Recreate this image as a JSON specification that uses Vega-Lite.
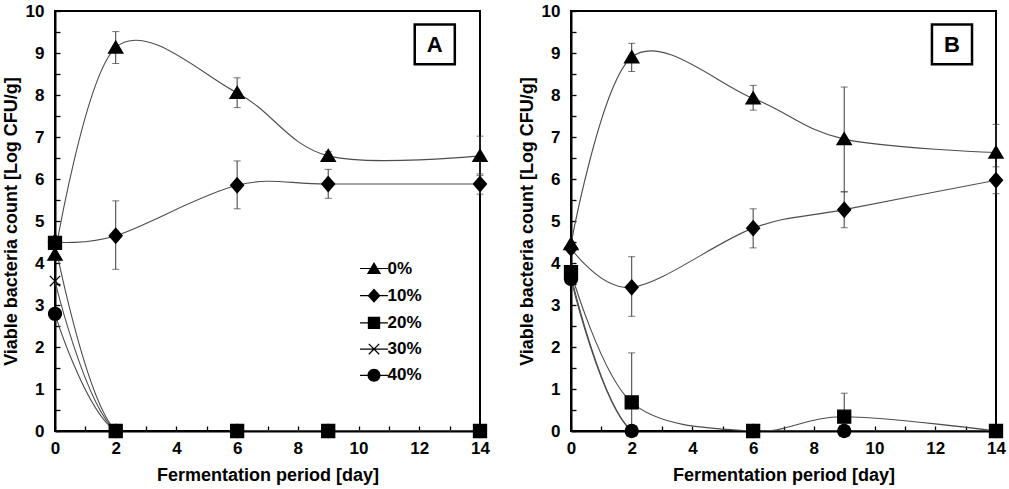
{
  "$schema": "https://vega.github.io/schema/vega-lite/v6.json",
  "background": "white",
  "padding": {"left": 1, "top": 1, "right": 5, "bottom": 3},
  "config": {
    "font": "Liberation Sans",
    "view": {"stroke": "black", "strokeWidth": 2},
    "concat": {"spacing": 26},
    "axis": {
      "grid": false,
      "labelFont": "Liberation Sans",
      "labelFontSize": 17,
      "labelFontWeight": "bold",
      "labelColor": "black",
      "titleFont": "Liberation Sans",
      "titleFontSize": 18,
      "titleFontWeight": "bold",
      "titleColor": "black",
      "domainColor": "black",
      "domainWidth": 2,
      "tickColor": "black",
      "tickWidth": 1.3,
      "tickSize": -5
    }
  },
  "datasets": {
    "counts": [
      {"panel": "A", "conc": "0%", "day": 0, "value": 4.2},
      {"panel": "A", "conc": "0%", "day": 2, "value": 9.13, "lo": 8.75, "hi": 9.51},
      {"panel": "A", "conc": "0%", "day": 6, "value": 8.05, "lo": 7.7, "hi": 8.41},
      {"panel": "A", "conc": "0%", "day": 9, "value": 6.55, "lo": 6.45, "hi": 6.65},
      {"panel": "A", "conc": "0%", "day": 14, "value": 6.55, "lo": 6.08, "hi": 7.02},
      {"panel": "A", "conc": "10%", "day": 0, "value": 4.5},
      {"panel": "A", "conc": "10%", "day": 2, "value": 4.65, "lo": 3.85, "hi": 5.48},
      {"panel": "A", "conc": "10%", "day": 6, "value": 5.85, "lo": 5.29, "hi": 6.43},
      {"panel": "A", "conc": "10%", "day": 9, "value": 5.88, "lo": 5.54, "hi": 6.23},
      {"panel": "A", "conc": "10%", "day": 14, "value": 5.88, "lo": 5.64, "hi": 6.12},
      {"panel": "A", "conc": "20%", "day": 0, "value": 4.48},
      {"panel": "A", "conc": "20%", "day": 2, "value": 0},
      {"panel": "A", "conc": "20%", "day": 6, "value": 0},
      {"panel": "A", "conc": "20%", "day": 9, "value": 0},
      {"panel": "A", "conc": "20%", "day": 14, "value": 0},
      {"panel": "A", "conc": "30%", "day": 0, "value": 3.57},
      {"panel": "A", "conc": "30%", "day": 2, "value": 0},
      {"panel": "A", "conc": "30%", "day": 6, "value": 0},
      {"panel": "A", "conc": "30%", "day": 9, "value": 0},
      {"panel": "A", "conc": "30%", "day": 14, "value": 0},
      {"panel": "A", "conc": "40%", "day": 0, "value": 2.79},
      {"panel": "A", "conc": "40%", "day": 2, "value": 0},
      {"panel": "A", "conc": "40%", "day": 6, "value": 0},
      {"panel": "A", "conc": "40%", "day": 9, "value": 0},
      {"panel": "A", "conc": "40%", "day": 14, "value": 0},
      {"panel": "B", "conc": "0%", "day": 0, "value": 4.45},
      {"panel": "B", "conc": "0%", "day": 2, "value": 8.9, "lo": 8.56, "hi": 9.23},
      {"panel": "B", "conc": "0%", "day": 6, "value": 7.92, "lo": 7.64, "hi": 8.23},
      {"panel": "B", "conc": "0%", "day": 9, "value": 6.95, "lo": 5.7, "hi": 8.19},
      {"panel": "B", "conc": "0%", "day": 14, "value": 6.63, "lo": 5.95, "hi": 7.3},
      {"panel": "B", "conc": "10%", "day": 0, "value": 4.35},
      {"panel": "B", "conc": "10%", "day": 2, "value": 3.42, "lo": 2.73, "hi": 4.15},
      {"panel": "B", "conc": "10%", "day": 6, "value": 4.83, "lo": 4.36, "hi": 5.29},
      {"panel": "B", "conc": "10%", "day": 9, "value": 5.27, "lo": 4.84, "hi": 5.69},
      {"panel": "B", "conc": "10%", "day": 14, "value": 5.97, "lo": 5.65, "hi": 6.29},
      {"panel": "B", "conc": "20%", "day": 0, "value": 3.78},
      {"panel": "B", "conc": "20%", "day": 2, "value": 0.68, "lo": 0, "hi": 1.86},
      {"panel": "B", "conc": "20%", "day": 6, "value": 0},
      {"panel": "B", "conc": "20%", "day": 9, "value": 0.34, "lo": 0, "hi": 0.9},
      {"panel": "B", "conc": "20%", "day": 14, "value": 0},
      {"panel": "B", "conc": "30%", "day": 0, "value": 3.7},
      {"panel": "B", "conc": "30%", "day": 2, "value": 0},
      {"panel": "B", "conc": "30%", "day": 6, "value": 0},
      {"panel": "B", "conc": "30%", "day": 9, "value": 0},
      {"panel": "B", "conc": "30%", "day": 14, "value": 0},
      {"panel": "B", "conc": "40%", "day": 0, "value": 3.62},
      {"panel": "B", "conc": "40%", "day": 2, "value": 0},
      {"panel": "B", "conc": "40%", "day": 6, "value": 0},
      {"panel": "B", "conc": "40%", "day": 9, "value": 0},
      {"panel": "B", "conc": "40%", "day": 14, "value": 0}
    ]
  },
  "hconcat": [
    {
      "width": 425,
      "height": 420,
      "data": {"name": "counts"},
      "transform": [{"filter": "datum.panel === 'A'"}],
      "encoding": {
        "x": {
          "field": "day", "type": "quantitative",
          "scale": {"domain": [0, 14], "nice": false, "zero": false},
          "axis": {
            "title": "Fermentation period [day]",
            "values": [0, 1, 2, 3, 4, 5, 6, 7, 8, 9, 10, 11, 12, 13, 14],
            "labelExpr": "datum.value % 2 === 0 ? format(datum.value, 'd') : ''",
            "labelPadding": 14, "titlePadding": 10, "labelFlush": false
          }
        },
        "y": {
          "field": "value", "type": "quantitative",
          "scale": {"domain": [0, 10], "nice": false},
          "axis": {
            "title": "Viable bacteria count [Log CFU/g]",
            "values": [0, 0.5, 1, 1.5, 2, 2.5, 3, 3.5, 4, 4.5, 5, 5.5, 6, 6.5, 7, 7.5, 8, 8.5, 9, 9.5, 10],
            "labelExpr": "datum.value % 1 === 0 ? format(datum.value, 'd') : ''",
            "labelPadding": 16, "titlePadding": 5, "labelFlush": false
          }
        }
      },
      "layer": [
        {
          "mark": {"type": "line", "interpolate": "cardinal", "clip": true, "color": "#4d4d4d", "strokeWidth": 1.1},
          "encoding": {"detail": {"field": "conc"}}
        },
        {
          "transform": [{"filter": {"field": "lo", "valid": true}}],
          "mark": {"type": "rule", "color": "#3a3a3a", "strokeWidth": 1},
          "encoding": {
            "y": {"field": "lo", "type": "quantitative", "scale": {"domain": [0, 10], "nice": false}},
            "y2": {"field": "hi"}
          }
        },
        {
          "transform": [{"filter": {"field": "lo", "valid": true}}],
          "mark": {"type": "tick", "orient": "horizontal", "size": 7, "thickness": 1, "color": "#3a3a3a"},
          "encoding": {"y": {"field": "lo", "type": "quantitative", "scale": {"domain": [0, 10], "nice": false}}}
        },
        {
          "transform": [{"filter": {"field": "hi", "valid": true}}],
          "mark": {"type": "tick", "orient": "horizontal", "size": 7, "thickness": 1, "color": "#3a3a3a"},
          "encoding": {"y": {"field": "hi", "type": "quantitative", "scale": {"domain": [0, 10], "nice": false}}}
        },
        {
          "mark": {"type": "point", "filled": true, "opacity": 1, "size": 169, "color": "black", "stroke": "black", "strokeWidth": 1.3},
          "encoding": {
            "shape": {
              "field": "conc", "type": "nominal",
              "scale": {
                "domain": ["0%", "10%", "20%", "30%", "40%"],
                "range": [
                  "M0,-1L1.1,0.85L-1.1,0.85Z",
                  "M0,-1.15L1,0L0,1.15L-1,0Z",
                  "M-1,-1L1,-1L1,1L-1,1Z",
                  "M-0.8,-0.8L0.8,0.8M-0.8,0.8L0.8,-0.8",
                  "M1,0A1,1,0,1,1,-1,0A1,1,0,1,1,1,0Z"
                ]
              },
              "legend": null
            }
          }
        },
        {
          "transform": [{"filter": "datum.day < 0"}],
          "mark": {"type": "point", "filled": true, "opacity": 1, "color": "black"},
          "encoding": {
            "shape": {
              "field": "conc", "type": "nominal",
              "scale": {
                "domain": ["0%", "10%", "20%", "30%", "40%"],
                "range": [
                  "M-2.15,-0.09H2.15V0.09H-2.15ZM0,-1L1.1,0.85L-1.1,0.85Z",
                  "M-2.15,-0.09H2.15V0.09H-2.15ZM0,-1.1L1,0L0,1.1L-1,0Z",
                  "M-2.15,-0.09H2.15V0.09H-2.15ZM-0.95,-0.95L0.95,-0.95L0.95,0.95L-0.95,0.95Z",
                  "M-2.15,-0.09H2.15V0.09H-2.15ZM-0.87,-0.73L-0.73,-0.87L0.87,0.73L0.73,0.87ZM-0.87,0.73L0.73,-0.87L0.87,-0.73L-0.73,0.87Z",
                  "M-2.15,-0.09H2.15V0.09H-2.15ZM1,0A1,1,0,1,1,-1,0A1,1,0,1,1,1,0Z"
                ]
              },
              "legend": {
                "title": null,
                "orient": "none",
                "legendX": 310.5,
                "legendY": 249,
                "padding": 0,
                "symbolSize": 169,
                "symbolFillColor": "black",
                "symbolOpacity": 1,
                "labelFont": "Liberation Sans",
                "labelFontSize": 17,
                "labelFontWeight": "bold",
                "labelColor": "black",
                "labelOffset": 5,
                "rowPadding": 7.2
              }
            }
          }
        },
        {
          "transform": [{"filter": "datum.day === 0 && datum.conc === '0%'"}],
          "mark": {"type": "rect", "fill": "white", "stroke": "black", "strokeWidth": 2.5},
          "encoding": {
            "x": {"datum": 11.85, "type": "quantitative", "scale": {"domain": [0, 14], "nice": false}},
            "x2": {"datum": 13.17},
            "y": {"datum": 9.68, "type": "quantitative", "scale": {"domain": [0, 10], "nice": false}},
            "y2": {"datum": 8.73}
          }
        },
        {
          "transform": [{"filter": "datum.day === 0 && datum.conc === '0%'"}],
          "mark": {"type": "text", "font": "Liberation Sans", "fontSize": 22, "fontWeight": "bold", "color": "black", "align": "center", "baseline": "middle", "dy": 1},
          "encoding": {
            "x": {"datum": 12.51, "type": "quantitative", "scale": {"domain": [0, 14], "nice": false}},
            "y": {"datum": 9.205, "type": "quantitative", "scale": {"domain": [0, 10], "nice": false}},
            "text": {"field": "panel"}
          }
        }
      ],
      "resolve": {"scale": {"shape": "independent"}}
    },
    {
      "width": 425,
      "height": 420,
      "data": {"name": "counts"},
      "transform": [{"filter": "datum.panel === 'B'"}],
      "encoding": {
        "x": {
          "field": "day", "type": "quantitative",
          "scale": {"domain": [0, 14], "nice": false, "zero": false},
          "axis": {
            "title": "Fermentation period [day]",
            "values": [0, 1, 2, 3, 4, 5, 6, 7, 8, 9, 10, 11, 12, 13, 14],
            "labelExpr": "datum.value % 2 === 0 ? format(datum.value, 'd') : ''",
            "labelPadding": 14, "titlePadding": 10, "labelFlush": false
          }
        },
        "y": {
          "field": "value", "type": "quantitative",
          "scale": {"domain": [0, 10], "nice": false},
          "axis": {
            "title": "Viable bacteria count [Log CFU/g]",
            "values": [0, 0.5, 1, 1.5, 2, 2.5, 3, 3.5, 4, 4.5, 5, 5.5, 6, 6.5, 7, 7.5, 8, 8.5, 9, 9.5, 10],
            "labelExpr": "datum.value % 1 === 0 ? format(datum.value, 'd') : ''",
            "labelPadding": 16, "titlePadding": 5, "labelFlush": false
          }
        }
      },
      "layer": [
        {
          "mark": {"type": "line", "interpolate": "cardinal", "clip": true, "color": "#4d4d4d", "strokeWidth": 1.1},
          "encoding": {"detail": {"field": "conc"}}
        },
        {
          "transform": [{"filter": {"field": "lo", "valid": true}}],
          "mark": {"type": "rule", "color": "#3a3a3a", "strokeWidth": 1},
          "encoding": {
            "y": {"field": "lo", "type": "quantitative", "scale": {"domain": [0, 10], "nice": false}},
            "y2": {"field": "hi"}
          }
        },
        {
          "transform": [{"filter": {"field": "lo", "valid": true}}],
          "mark": {"type": "tick", "orient": "horizontal", "size": 7, "thickness": 1, "color": "#3a3a3a"},
          "encoding": {"y": {"field": "lo", "type": "quantitative", "scale": {"domain": [0, 10], "nice": false}}}
        },
        {
          "transform": [{"filter": {"field": "hi", "valid": true}}],
          "mark": {"type": "tick", "orient": "horizontal", "size": 7, "thickness": 1, "color": "#3a3a3a"},
          "encoding": {"y": {"field": "hi", "type": "quantitative", "scale": {"domain": [0, 10], "nice": false}}}
        },
        {
          "mark": {"type": "point", "filled": true, "opacity": 1, "size": 169, "color": "black", "stroke": "black", "strokeWidth": 1.3},
          "encoding": {
            "shape": {
              "field": "conc", "type": "nominal",
              "scale": {
                "domain": ["0%", "10%", "20%", "30%", "40%"],
                "range": [
                  "M0,-1L1.1,0.85L-1.1,0.85Z",
                  "M0,-1.15L1,0L0,1.15L-1,0Z",
                  "M-1,-1L1,-1L1,1L-1,1Z",
                  "M-0.8,-0.8L0.8,0.8M-0.8,0.8L0.8,-0.8",
                  "M1,0A1,1,0,1,1,-1,0A1,1,0,1,1,1,0Z"
                ]
              },
              "legend": null
            }
          }
        },
        {
          "transform": [{"filter": "datum.day === 0 && datum.conc === '0%'"}],
          "mark": {"type": "rect", "fill": "white", "stroke": "black", "strokeWidth": 2.5},
          "encoding": {
            "x": {"datum": 11.89, "type": "quantitative", "scale": {"domain": [0, 14], "nice": false}},
            "x2": {"datum": 13.21},
            "y": {"datum": 9.68, "type": "quantitative", "scale": {"domain": [0, 10], "nice": false}},
            "y2": {"datum": 8.73}
          }
        },
        {
          "transform": [{"filter": "datum.day === 0 && datum.conc === '0%'"}],
          "mark": {"type": "text", "font": "Liberation Sans", "fontSize": 22, "fontWeight": "bold", "color": "black", "align": "center", "baseline": "middle", "dy": 1},
          "encoding": {
            "x": {"datum": 12.55, "type": "quantitative", "scale": {"domain": [0, 14], "nice": false}},
            "y": {"datum": 9.205, "type": "quantitative", "scale": {"domain": [0, 10], "nice": false}},
            "text": {"field": "panel"}
          }
        }
      ],
      "resolve": {"scale": {"shape": "independent"}}
    }
  ],
  "resolve": {
    "scale": {"shape": "independent"},
    "legend": {"shape": "independent"}
  }
}
